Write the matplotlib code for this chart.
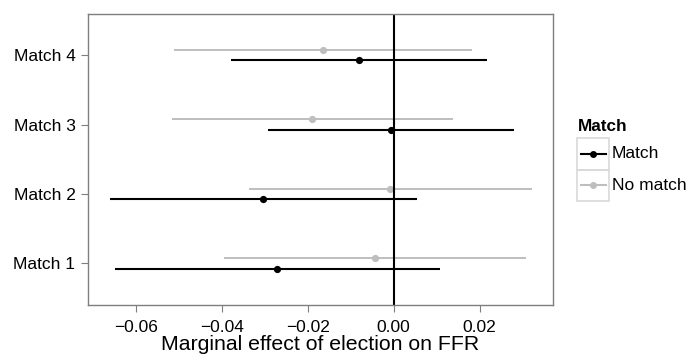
import matplotlib
matplotlib.use("Agg")
import matplotlib.pyplot as plt
from matplotlib.patches import Rectangle
from matplotlib.lines import Line2D

plt.rcParams['font.family'] = ['Liberation Sans', 'DejaVu Sans']

labels = ["Match 1", "Match 2", "Match 3", "Match 4"]

# estimates and interval ends
match_est = [-0.0272, -0.0303, -0.0006, -0.0081]
match_lo = [-0.0648, -0.0660, -0.0292, -0.0379]
match_hi = [0.0107, 0.0054, 0.0281, 0.0218]

nomatch_est = [-0.0044, -0.0009, -0.0191, -0.0165]
nomatch_lo = [-0.0395, -0.0337, -0.0516, -0.0510]
nomatch_hi = [0.0309, 0.0321, 0.0137, 0.0183]

W, H = 691, 354
fig = plt.figure(figsize=(W / 100, H / 100), dpi=100)
ax = fig.add_axes([88 / W, (H - 305) / H, (552.7 - 88) / W, (305 - 13.5) / H])

grey = "#BEBEBE"
dodge = 0.075
ys = [i + 1 for i in range(len(labels))]

for i, y in enumerate(ys):
    ax.plot([nomatch_lo[i], nomatch_hi[i]], [y + dodge, y + dodge], color=grey, lw=1.4, solid_capstyle="butt")
    ax.plot(nomatch_est[i], y + dodge, "o", color=grey, ms=5.2, mec="none")
    ax.plot([match_lo[i], match_hi[i]], [y - dodge, y - dodge], color="black", lw=1.5, solid_capstyle="butt")
    ax.plot(match_est[i], y - dodge, "o", color="black", ms=5.2, mec="none")

ax.axvline(0, color="black", lw=1.5)

ax.set_xlim(-0.0711, 0.0370)
ax.set_ylim(0.4, 4.6)
ax.set_yticks(ys)
ax.set_yticklabels(labels)
ax.set_xticks([-0.06, -0.04, -0.02, 0.00, 0.02])
ax.set_xticklabels(["\u22120.06", "\u22120.04", "\u22120.02", "0.00", "0.02"])
ax.tick_params(axis="both", colors="#7F7F7F", length=5, width=0.8, labelsize=12.5, labelcolor="black")
ax.tick_params(axis="x", pad=6)
ax.tick_params(axis="y", pad=4)
for s in ax.spines.values():
    s.set_color("#7F7F7F")
    s.set_linewidth(1.0)
ax.set_xlabel("Marginal effect of election on FFR", fontsize=15.3, labelpad=0)

# legend drawn in pixel space
leg = fig.add_axes([0, 0, 1, 1], facecolor="none")
leg.set_xlim(0, W)
leg.set_ylim(H, 0)
leg.axis("off")
leg.text(578, 131, "Match", fontsize=12.3, fontweight="bold", va="baseline", ha="left")
keys = [("Match", "black"), ("No match", grey)]
for k, (name, col) in enumerate(keys):
    top = 138 + k * 31.5
    leg.add_patch(Rectangle((577.5, top), 31.5, 31.5, fill=False, ec="#D9D9D9", lw=1.2))
    cy = top + 15.75
    leg.add_line(Line2D([581, 606], [cy, cy], color=col, lw=1.5))
    leg.plot(593.5, cy, "o", color=col, ms=5, mec="none")
    leg.text(612, cy, name, fontsize=12.5, va="center", ha="left")

fig.savefig("out.png", dpi=100)
